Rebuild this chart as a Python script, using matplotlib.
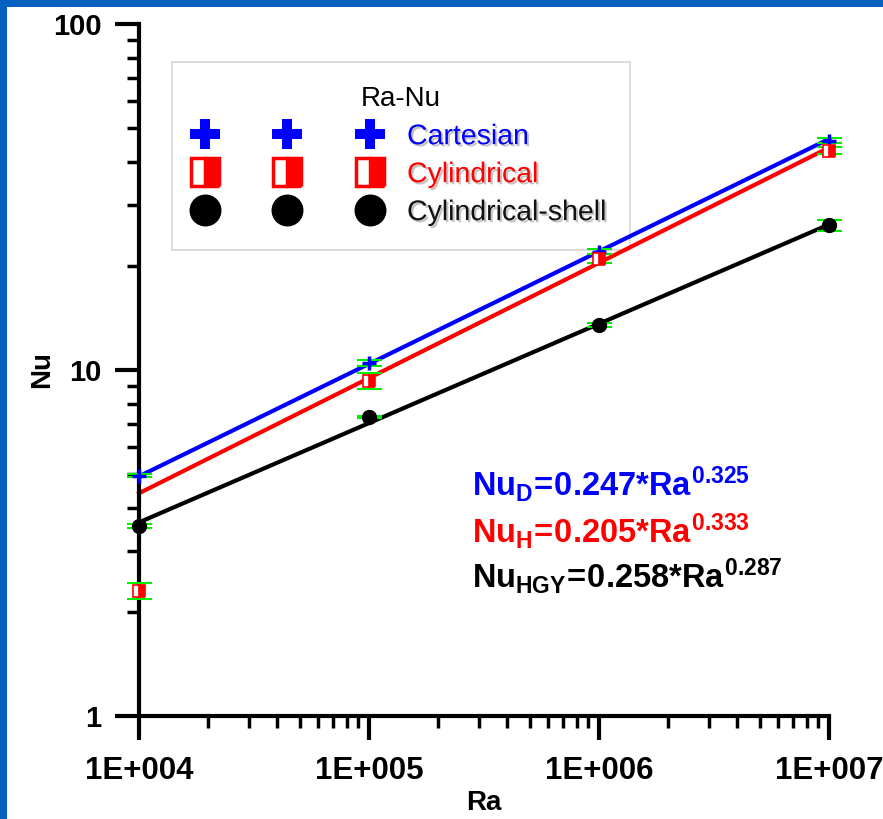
import numpy as np
import matplotlib
matplotlib.use("Agg")
import matplotlib.pyplot as plt
from matplotlib.lines import Line2D
from matplotlib.patches import Rectangle
import matplotlib.patheffects as pe

plt.rcParams['font.family'] = ['Liberation Sans', 'DejaVu Sans']
plt.rcParams['mathtext.fontset'] = 'custom'
plt.rcParams['mathtext.rm'] = 'Liberation Sans:bold'
plt.rcParams['mathtext.it'] = 'Liberation Sans:bold'
plt.rcParams['mathtext.bf'] = 'Liberation Sans:bold'

# Rayleigh numbers and measured Nusselt numbers
ra = [1e4, 1e5, 1e6, 1e7]
nu_cartesian = [4.95, 10.5, 22.0, 46.0]
nu_cylindrical = [2.30, 9.3, 21.0, 43.0]
nu_shell = [3.55, 7.3, 13.5, 26.2]

err_cartesian = [0.05, 0.2, 0.4, 0.8]
err_cylindrical = [0.12, 0.5, 0.6, 1.0]
err_shell = [0.05, 0.05, 0.2, 0.9]

# power-law fits Nu = c * Ra^n
fit_names = ['D', 'H', 'HGY']
fit_coef = [0.247, 0.205, 0.258]
fit_exp = [0.325, 0.333, 0.287]

series_names = ['Cartesian', 'Cylindrical', 'Cylindrical-shell']

x_ticks = [1e4, 1e5, 1e6, 1e7]
x_tick_labels = ['1E+004', '1E+005', '1E+006', '1E+007']
y_ticks = [1, 10, 100]
y_tick_labels = ['1', '10', '100']

BLUE = '#0000ff'
RED = '#ff0000'
GREEN = '#00ee00'

fig = plt.figure(figsize=(8.83, 8.19), dpi=100)
fig.patch.set_facecolor('#0560c0')
fig.patches.append(Rectangle((7 / 883, 0), 1, 1 - 7 / 819, transform=fig.transFigure,
                             facecolor='white', edgecolor='none', zorder=-1))

ax = fig.add_axes([139 / 883, 1 - 716 / 819, 690 / 883, 692 / 819])
ax.set_facecolor('none')
ax.set_xscale('log')
ax.set_yscale('log')
ax.set_xlim(1e4, 1e7)
ax.set_ylim(1, 100)

# fitted lines
ra_line = np.array([ra[0], ra[-1]])
colors = [BLUE, RED, 'black']
for c, n, col in zip(fit_coef, fit_exp, colors):
    ax.plot(ra_line, c * ra_line ** n, color=col, lw=3, zorder=2, clip_on=False)

# data with error bars
for vals, errs in [(nu_cartesian, err_cartesian), (nu_cylindrical, err_cylindrical),
                   (nu_shell, err_shell)]:
    ax.errorbar(ra, vals, yerr=errs, fmt='none', ecolor=GREEN, elinewidth=1.5,
                capsize=9, capthick=1.5, zorder=3, clip_on=False)

ax.plot(ra, nu_cartesian, ls='none', marker='+', ms=10, mew=2.5, color=BLUE,
        zorder=4, clip_on=False)
ax.plot(ra, nu_cylindrical, ls='none', marker='s', ms=9, mew=1.2, color=RED,
        fillstyle='right', markerfacecoloralt='white', markeredgecolor=RED,
        zorder=4, clip_on=False)
ax.plot(ra, nu_shell, ls='none', marker='o', ms=10, color='black',
        zorder=4, clip_on=False)

# axes styling
for side in ['top', 'right']:
    ax.spines[side].set_visible(False)
for side in ['left', 'bottom']:
    ax.spines[side].set_linewidth(3)
ax.set_xticks(x_ticks)
ax.set_xticklabels(x_tick_labels)
ax.set_yticks(y_ticks)
ax.set_yticklabels(y_tick_labels)
ax.tick_params(which='major', direction='out', length=17, width=3, pad=10,
               labelsize=21)
ax.tick_params(axis='x', which='major', labelsize=22.5, pad=12)
ax.tick_params(which='minor', direction='out', length=8.5, width=2.5)
for lab in ax.get_xticklabels() + ax.get_yticklabels():
    lab.set_fontweight('bold')

ax.set_xlabel('Ra', fontsize=20, fontweight='bold')
ax.set_ylabel('Nu', fontsize=20, fontweight='bold')
ax.xaxis.set_label_coords(0.5, -0.107)
ax.yaxis.set_label_coords(-0.122, 0.5)

# legend (kept beneath the data so the lines stay visible)
handles = [
    Line2D([], [], ls='none', marker='P', ms=22, mew=0, color=BLUE),
    Line2D([], [], ls='none', marker='s', ms=20, mew=2.5, color=RED,
           fillstyle='right', markerfacecoloralt='white', markeredgecolor=RED),
    Line2D([], [], ls='none', marker='o', ms=22, color='black'),
]
leg = ax.legend(handles, series_names, title='Ra-Nu', loc='upper left',
                bbox_to_anchor=(0.048, 0.945), borderaxespad=0, numpoints=3,
                handlelength=6.4, handletextpad=1.0, borderpad=0.85,
                labelspacing=0.42, fontsize=20.5, title_fontsize=20,
                frameon=True, fancybox=False, framealpha=1,
                labelcolor=[BLUE, RED, '#111111'])
leg.get_frame().set_edgecolor('#d4d4d4')
leg.get_frame().set_linewidth(1.2)
for t in leg.get_texts():
    t.set_path_effects([pe.withSimplePatchShadow(offset=(1.5, -1.5),
                                                 shadow_rgbFace='#888888',
                                                 alpha=0.5)])
leg.set_zorder(1.5)

# fit equations
eq_y = [0.319, 0.251, 0.185]
for name, c, n, col, y in zip(fit_names, fit_coef, fit_exp, colors, eq_y):
    txt = r'$Nu_{%s}\!=\!%.3f{*}Ra^{%.3f}$' % (name, c, n)
    ax.text(0.483, y, txt, transform=ax.transAxes, color=col, fontsize=23.5,
            ha='left', va='baseline', zorder=6)

fig.savefig('out.png', dpi=100, facecolor=fig.get_facecolor())
